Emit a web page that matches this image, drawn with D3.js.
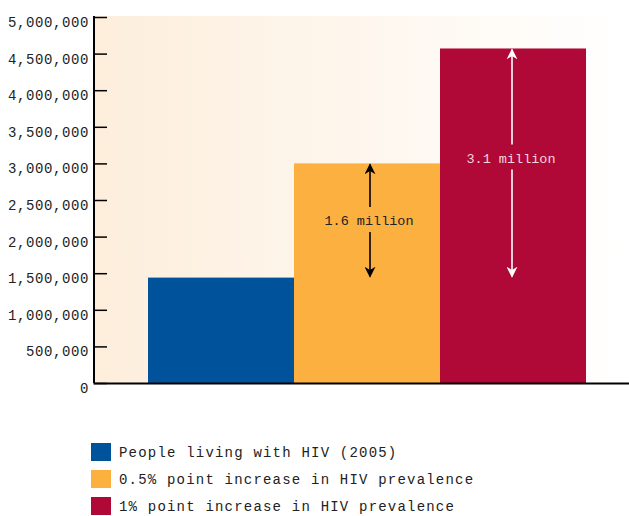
<!DOCTYPE html>
<html>
<head>
<meta charset="utf-8">
<script src="https://cdn.jsdelivr.net/npm/d3@7"></script>
<style>
  html, body { margin: 0; padding: 0; background: #ffffff; }
  svg text { font-family: "Liberation Mono", "DejaVu Sans Mono", monospace; }
</style>
</head>
<body>
<svg id="chart" width="629" height="516"></svg>
<script>
// Series: people living with HIV (2005) and two prevalence-increase scenarios
const categories = [
  "People living with HIV (2005)",
  "0.5% point increase in HIV prevalence",
  "1% point increase in HIV prevalence"
];
const values = [1440000, 3000000, 4570000];
const colors = ["#00539b", "#fbb040", "#b00938"];
const yTicks = [0, 500000, 1000000, 1500000, 2000000, 2500000, 3000000, 3500000, 4000000, 4500000, 5000000];
const increaseLabels = ["", "1.6 million", "3.1 million"];

const svg = d3.select("#chart");
const plotLeft = 94, plotRight = 629, plotTop = 17, plotBottom = 383;

const y = d3.scaleLinear().domain([0, 5000000]).range([plotBottom, plotTop]);
const x = d3.scaleBand().domain(categories).range([148, 586]).paddingInner(0).paddingOuter(0);

// Background gradient, peach fading to white
const defs = svg.append("defs");
const grad = defs.append("linearGradient").attr("id", "bg").attr("x1", "0").attr("x2", "1").attr("y1", "0").attr("y2", "0");
grad.append("stop").attr("offset", "0%").attr("stop-color", "#fdeedc");
grad.append("stop").attr("offset", "100%").attr("stop-color", "#ffffff");

svg.append("rect")
  .attr("x", plotLeft).attr("y", plotTop - 1)
  .attr("width", plotRight - plotLeft).attr("height", plotBottom - plotTop + 1)
  .attr("fill", "url(#bg)");

// Arrow markers
["#000000", "#ffffff"].forEach((c, i) => {
  defs.append("marker")
    .attr("id", "arrow" + i)
    .attr("viewBox", "0 0 10 10")
    .attr("refX", 9).attr("refY", 5)
    .attr("markerWidth", 11).attr("markerHeight", 11)
    .attr("markerUnits", "userSpaceOnUse")
    .attr("orient", "auto-start-reverse")
    .append("path")
    .attr("d", "M0,0 L10,5 L0,10 L3,5 Z")
    .attr("fill", c);
});

// Bars
svg.selectAll("rect.bar")
  .data(values)
  .join("rect")
  .attr("class", "bar")
  .attr("x", (d, i) => x(categories[i]))
  .attr("y", d => y(d))
  .attr("width", x.bandwidth())
  .attr("height", d => y(0) - y(d))
  .attr("fill", (d, i) => colors[i]);

// Increase annotations: double arrows from the baseline value to each bar top
const base = values[0];
values.forEach((v, i) => {
  if (i === 0) return;
  const cx = x(categories[i]) + x.bandwidth() / 2 + (i === 1 ? 3 : -1);
  const stroke = i === 1 ? "#000000" : "#ffffff";
  const mk = i === 1 ? "url(#arrow0)" : "url(#arrow1)";
  const yTop = y(v), yBot = y(base) - 1;
  const yMid = (yTop + yBot) / 2 - (i === 1 ? 0 : 5);
  svg.append("line")
    .attr("x1", cx).attr("x2", cx)
    .attr("y1", yMid - 13).attr("y2", yTop + 1)
    .attr("stroke", stroke).attr("stroke-width", 1.6)
    .attr("marker-end", mk);
  svg.append("line")
    .attr("x1", cx).attr("x2", cx)
    .attr("y1", yMid + 12).attr("y2", yBot)
    .attr("stroke", stroke).attr("stroke-width", 1.6)
    .attr("marker-end", mk);
  svg.append("text")
    .attr("x", cx - 1).attr("y", yMid + 5)
    .attr("text-anchor", "middle")
    .attr("font-size", 13.5)
    .attr("fill", i === 1 ? "#222222" : "#f6d5dd")
    .text(increaseLabels[i]);
});

// Y axis: ticks point inward
const yAxis = d3.axisRight(y)
  .tickValues(yTicks)
  .tickSize(13)
  .tickFormat("");
const ya = svg.append("g").attr("transform", `translate(${plotLeft},0)`).call(yAxis);
ya.select(".domain").attr("stroke", "#000").attr("stroke-width", 2).attr("d", `M0,${plotTop - 1}V${plotBottom}`);
ya.selectAll(".tick line").attr("stroke", "#000").attr("stroke-width", 1.5);

// Y tick labels
const fmt = d3.format(",");
svg.selectAll("text.ylab")
  .data(yTicks)
  .join("text")
  .attr("class", "ylab")
  .attr("x", 89)
  .attr("y", d => y(d) + 10)
  .attr("text-anchor", "end")
  .attr("font-size", 14)
  .attr("letter-spacing", 0.6)
  .attr("fill", "#222222")
  .text(d => fmt(d));

// X axis baseline
const xAxis = d3.axisBottom(d3.scaleLinear().range([plotLeft - 1, plotRight])).ticks(0).tickSize(0).tickFormat("");
const xa = svg.append("g").attr("transform", `translate(0,${plotBottom})`).call(xAxis);
xa.select(".domain").attr("stroke", "#000").attr("stroke-width", 2);

// Legend
const legend = svg.append("g").attr("transform", "translate(91,443)");
categories.forEach((c, i) => {
  const g = legend.append("g").attr("transform", `translate(0,${i * 27})`);
  g.append("rect").attr("width", 20).attr("height", 18).attr("fill", colors[i]);
  g.append("text")
    .attr("x", 28).attr("y", 14)
    .attr("font-size", 14)
    .attr("letter-spacing", 1.2)
    .attr("fill", "#222222")
    .text(c);
});
</script>
</body>
</html>
